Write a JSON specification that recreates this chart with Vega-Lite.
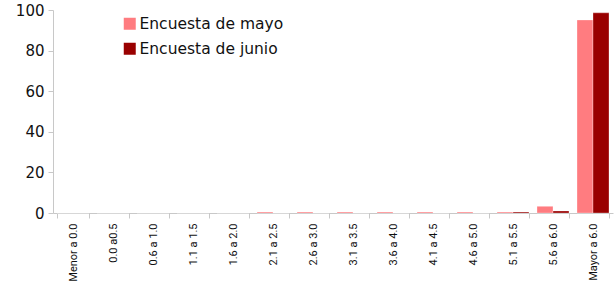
{
  "$schema": "https://vega.github.io/schema/vega-lite/v6.json",
  "width": 560,
  "height": 203,
  "autosize": {"type": "none"},
  "padding": {"left": 53, "top": 10, "right": 3, "bottom": 73},
  "background": "white",
  "config": {"view": {"stroke": null}},
  "data": {
    "values": [
      {"rango": "Menor a 0.0", "encuesta": "Encuesta de mayo", "valor": 0},
      {"rango": "Menor a 0.0", "encuesta": "Encuesta de junio", "valor": 0},
      {"rango": "0.0 a0.5", "encuesta": "Encuesta de mayo", "valor": 0},
      {"rango": "0.0 a0.5", "encuesta": "Encuesta de junio", "valor": 0},
      {"rango": "0.6 a 1.0", "encuesta": "Encuesta de mayo", "valor": 0},
      {"rango": "0.6 a 1.0", "encuesta": "Encuesta de junio", "valor": 0},
      {"rango": "1.1 a 1.5", "encuesta": "Encuesta de mayo", "valor": 0},
      {"rango": "1.1 a 1.5", "encuesta": "Encuesta de junio", "valor": 0},
      {"rango": "1.6 a 2.0", "encuesta": "Encuesta de mayo", "valor": 0},
      {"rango": "1.6 a 2.0", "encuesta": "Encuesta de junio", "valor": 0},
      {"rango": "2.1 a 2.5", "encuesta": "Encuesta de mayo", "valor": 0.5},
      {"rango": "2.1 a 2.5", "encuesta": "Encuesta de junio", "valor": 0},
      {"rango": "2.6 a 3.0", "encuesta": "Encuesta de mayo", "valor": 0.5},
      {"rango": "2.6 a 3.0", "encuesta": "Encuesta de junio", "valor": 0},
      {"rango": "3.1 a 3.5", "encuesta": "Encuesta de mayo", "valor": 0.5},
      {"rango": "3.1 a 3.5", "encuesta": "Encuesta de junio", "valor": 0},
      {"rango": "3.6 a 4.0", "encuesta": "Encuesta de mayo", "valor": 0.5},
      {"rango": "3.6 a 4.0", "encuesta": "Encuesta de junio", "valor": 0},
      {"rango": "4.1 a 4.5", "encuesta": "Encuesta de mayo", "valor": 0.5},
      {"rango": "4.1 a 4.5", "encuesta": "Encuesta de junio", "valor": 0},
      {"rango": "4.6 a 5.0", "encuesta": "Encuesta de mayo", "valor": 0.5},
      {"rango": "4.6 a 5.0", "encuesta": "Encuesta de junio", "valor": 0},
      {"rango": "5.1 a 5.5", "encuesta": "Encuesta de mayo", "valor": 0.5},
      {"rango": "5.1 a 5.5", "encuesta": "Encuesta de junio", "valor": 0.5},
      {"rango": "5.6 a 6.0", "encuesta": "Encuesta de mayo", "valor": 3.3},
      {"rango": "5.6 a 6.0", "encuesta": "Encuesta de junio", "valor": 1.0},
      {"rango": "Mayor a 6.0", "encuesta": "Encuesta de mayo", "valor": 95.1},
      {"rango": "Mayor a 6.0", "encuesta": "Encuesta de junio", "valor": 98.6}
    ]
  },
  "mark": {"type": "bar", "stroke": "white", "strokeWidth": 0.5, "strokeOpacity": 0.6},
  "encoding": {
    "x": {
      "field": "rango",
      "type": "nominal",
      "sort": null,
      "title": null,
      "scale": {"paddingInner": 0.2, "paddingOuter": 0.1},
      "axis": {
        "tickBand": "extent",
        "labelAngle": -90,
        "labelFont": "Roboto",
        "labelFontSize": 11,
        "labelColor": "#111",
        "labelPadding": 5,
        "domainColor": "#c8c8c8",
        "tickColor": "#c8c8c8",
        "tickSize": 5
      }
    },
    "xOffset": {"field": "encuesta", "sort": ["Encuesta de mayo", "Encuesta de junio"]},
    "y": {
      "field": "valor",
      "type": "quantitative",
      "title": null,
      "scale": {"domain": [0, 100], "nice": false},
      "axis": {
        "values": [0, 20, 40, 60, 80, 100],
        "grid": false,
        "labelFont": "DejaVu Sans",
        "labelFontSize": 15,
        "labelColor": "#111",
        "labelPadding": 4,
        "domainColor": "#c8c8c8",
        "tickColor": "#c8c8c8",
        "tickSize": 5
      }
    },
    "color": {
      "field": "encuesta",
      "type": "nominal",
      "sort": ["Encuesta de mayo", "Encuesta de junio"],
      "scale": {"domain": ["Encuesta de mayo", "Encuesta de junio"], "range": ["#FF7C80", "#990000"]},
      "legend": {
        "title": null,
        "orient": "none",
        "legendX": 69,
        "legendY": 6,
        "symbolType": "square",
        "symbolSize": 144,
        "symbolStrokeWidth": 0,
        "symbolOpacity": 1,
        "labelFont": "DejaVu Sans",
        "labelFontSize": 15.5,
        "labelColor": "#111",
        "labelOffset": 2,
        "rowPadding": 8
      }
    }
  }
}
